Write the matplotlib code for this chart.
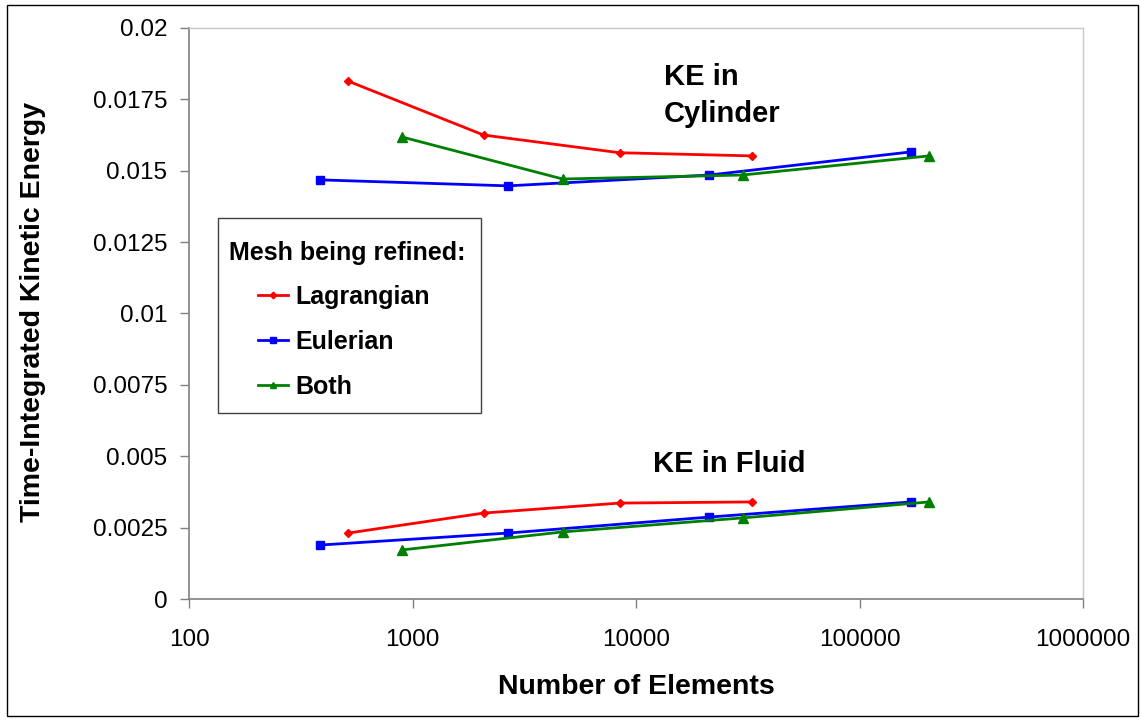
import matplotlib.pyplot as plt
from matplotlib.patches import Rectangle
from matplotlib.ticker import FixedLocator, FixedFormatter, NullLocator

plt.rcParams['font.family'] = ['Liberation Sans', 'DejaVu Sans']

# Element counts for each refinement
lag_n = [515, 2080, 8450, 33000]
eul_n = [386, 2680, 21300, 170000]
both_n = [900, 4700, 30000, 205000]

# Time-integrated KE in the cylinder
lag_cyl = [0.01814, 0.01625, 0.01563, 0.01552]
eul_cyl = [0.01468, 0.01447, 0.01485, 0.01566]
both_cyl = [0.01618, 0.01471, 0.01485, 0.01552]

# Time-integrated KE in the fluid
lag_fluid = [0.00231, 0.00301, 0.00336, 0.00340]
eul_fluid = [0.00189, 0.00231, 0.00287, 0.00340]
both_fluid = [0.00172, 0.00235, 0.00284, 0.00340]

x_ticks = [100, 1000, 10000, 100000, 1000000]
y_ticks = [0, 0.0025, 0.005, 0.0075, 0.01, 0.0125, 0.015, 0.0175, 0.02]
y_labels = ['0', '0.0025', '0.005', '0.0075', '0.01', '0.0125', '0.015', '0.0175', '0.02']

fig = plt.figure(figsize=(11.4, 7.21), dpi=100)
fig.patches.append(Rectangle((0.006, 0.007), 0.992, 0.986, transform=fig.transFigure,
                             fill=False, edgecolor='black', linewidth=1.0))
ax = fig.add_axes([0.1658, 0.1692, 0.7842, 0.792])

series = [
    (lag_n, lag_cyl, lag_fluid, '#ff0000', 'D', 4.5, 'Lagrangian'),
    (eul_n, eul_cyl, eul_fluid, '#0000ff', 's', 5.5, 'Eulerian'),
    (both_n, both_cyl, both_fluid, '#008000', '^', 6.5, 'Both'),
]
for n, cyl, fl, c, m, ms, name in series:
    ax.plot(n, cyl, color=c, marker=m, markersize=ms, linewidth=2, label=name)
    ax.plot(n, fl, color=c, marker=m, markersize=ms, linewidth=2)

ax.set_xscale('log')
ax.set_xlim(100, 1000000)
ax.set_ylim(0, 0.02)
ax.xaxis.set_major_locator(FixedLocator(x_ticks))
ax.xaxis.set_major_formatter(FixedFormatter([str(v) for v in x_ticks]))
ax.xaxis.set_minor_locator(NullLocator())
ax.yaxis.set_major_locator(FixedLocator(y_ticks))
ax.yaxis.set_major_formatter(FixedFormatter(y_labels))

ax.tick_params(axis='both', direction='out', length=6.5, width=1, color='#808080',
               labelsize=17.5)
ax.tick_params(axis='y', pad=9)
ax.tick_params(axis='x', pad=15)
for side in ['left', 'bottom']:
    ax.spines[side].set_color('#808080')
    ax.spines[side].set_linewidth(1.2)
for side in ['top', 'right']:
    ax.spines[side].set_color('#c8c8c8')
    ax.spines[side].set_linewidth(1.0)

ax.set_xlabel('Number of Elements', fontsize=20.5, fontweight='bold', va='center')
ax.set_ylabel('Time-Integrated Kinetic Energy', fontsize=20.5, fontweight='bold', va='center')
ax.xaxis.set_label_coords(0.5, -0.154)
ax.yaxis.set_label_coords(-0.1745, 0.503)

ax.text(0.531, 0.9387, 'KE in\nCylinder', transform=ax.transAxes, fontsize=21,
        fontweight='bold', va='top', ha='left', linespacing=1.42)
ax.text(0.519, 0.261, 'KE in Fluid', transform=ax.transAxes, fontsize=21,
        fontweight='bold', va='top', ha='left')

# legend frame and title drawn by hand so the entries can sit indented
ax.add_patch(Rectangle((0.0324, 0.325), 0.2942, 0.342, transform=ax.transAxes,
                       fill=False, edgecolor='#404040', linewidth=1.0, zorder=5))
ax.text(0.0447, 0.606, 'Mesh being refined:', transform=ax.transAxes, fontsize=18,
        fontweight='bold', va='center', ha='left')
leg = ax.legend(loc='upper left', bbox_to_anchor=(0.077, 0.55), frameon=False,
                prop={'size': 18, 'weight': 'bold'}, handlelength=1.2,
                labelspacing=0.84, borderpad=0, borderaxespad=0, handletextpad=0.3,
                markerscale=0.75)

fig.savefig('out.png', dpi=100)
